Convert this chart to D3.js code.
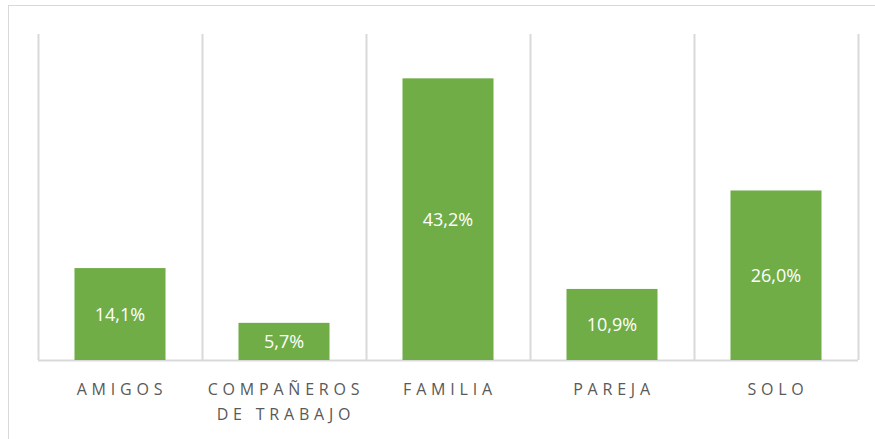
<!DOCTYPE html>
<html>
<head>
<meta charset="utf-8">
<script src="https://cdn.jsdelivr.net/npm/d3@7"></script>
<style>
  body { margin: 0; background: #fff; }
  .cat { font-family: "Open Sans", "Noto Sans", sans-serif; font-size: 16px; fill: #595959; letter-spacing: 4.8px; }
  .val { font-family: "Open Sans", "Noto Sans", sans-serif; font-size: 18px; fill: #fff; }
</style>
</head>
<body>
<div id="chart"></div>
<script>
const categories = [["AMIGOS"], ["COMPAÑEROS", "DE TRABAJO"], ["FAMILIA"], ["PAREJA"], ["SOLO"]];
const values = [14.1, 5.7, 43.2, 10.9, 26.0];
const valueLabels = ["14,1%", "5,7%", "43,2%", "10,9%", "26,0%"];
const yMax = 50;

const width = 875, height = 439;
const margin = {top: 34, right: 17, bottom: 79, left: 38};
const innerW = width - margin.left - margin.right;
const innerH = height - margin.top - margin.bottom;

const svg = d3.select("#chart").append("svg")
    .attr("width", width)
    .attr("height", height);

// chart frame
svg.append("rect")
    .attr("x", 8.5).attr("y", 5.5)
    .attr("width", 875).attr("height", 450)
    .attr("fill", "none")
    .attr("stroke", "#d9d9d9")
    .attr("stroke-width", 1);

const g = svg.append("g")
    .attr("transform", "translate(" + margin.left + "," + margin.top + ")");

const idx = d3.range(values.length);

const xScale = d3.scaleBand()
    .domain(idx)
    .range([0, innerW])
    .paddingInner(0.445)
    .paddingOuter(0.2225);

const yScale = d3.scaleLinear()
    .domain([0, yMax])
    .range([innerH, 0]);

// vertical separators between categories
g.selectAll("line.grid")
    .data(d3.range(values.length + 1))
    .enter().append("line")
    .attr("class", "grid")
    .attr("x1", d => Math.round(d * innerW / values.length) + 0.5)
    .attr("x2", d => Math.round(d * innerW / values.length) + 0.5)
    .attr("y1", 0)
    .attr("y2", innerH)
    .attr("stroke", "#d9d9d9")
    .attr("stroke-width", 2);

// baseline
g.append("line")
    .attr("x1", 0).attr("x2", innerW)
    .attr("y1", innerH + 0.5).attr("y2", innerH + 0.5)
    .attr("stroke", "#d9d9d9")
    .attr("stroke-width", 2);

g.selectAll("rect.bar")
    .data(idx)
    .enter().append("rect")
    .attr("class", "bar")
    .attr("x", i => xScale(i))
    .attr("width", xScale.bandwidth())
    .attr("y", i => yScale(values[i]))
    .attr("height", i => innerH - yScale(values[i]))
    .attr("fill", "#70ad47");

g.selectAll("text.val")
    .data(idx)
    .enter().append("text")
    .attr("class", "val")
    .attr("x", i => xScale(i) + xScale.bandwidth() / 2)
    .attr("y", i => (yScale(values[i]) + innerH) / 2)
    .attr("dy", "0.36em")
    .attr("text-anchor", "middle")
    .text(i => valueLabels[i]);

// category labels (offset half the letter spacing to re-centre)
const labels = g.selectAll("text.cat")
    .data(idx)
    .enter().append("text")
    .attr("class", "cat")
    .attr("text-anchor", "middle")
    .attr("transform", i => "translate(" + (xScale(i) + xScale.bandwidth() / 2 + 2) + "," + (innerH + 35) + ")");

labels.selectAll("tspan")
    .data(i => categories[i])
    .enter().append("tspan")
    .attr("x", 0)
    .attr("y", (d, j) => j * 25)
    .text(d => d);
</script>
</body>
</html>
